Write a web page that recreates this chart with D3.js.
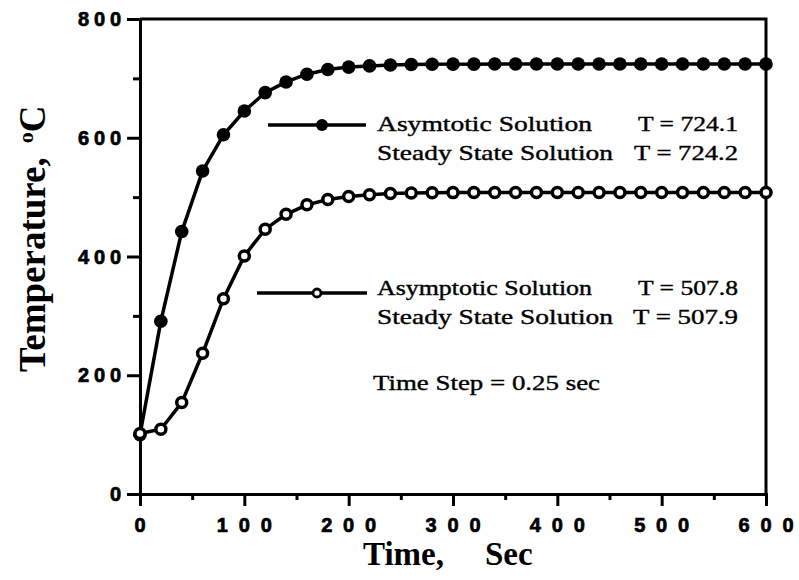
<!DOCTYPE html>
<html>
<head>
<meta charset="utf-8">
<script src="https://cdn.jsdelivr.net/npm/d3@7"></script>
<style>
  html, body { margin: 0; padding: 0; background: #fff; }
  svg { display: block; }
</style>
</head>
<body>
<svg id="chart" width="799" height="580"></svg>
<script>
// Time samples (s), every 20 s
const times = [0,20,40,60,80,100,120,140,160,180,200,220,240,260,280,300,320,340,360,380,400,420,440,460,480,500,520,540,560,580,600];

// Upper case: asymptotic solution, T -> 724.1
const upperTemps = [100,291,442,544,605,645,676,694,707,715,719,721,722.5,723.3,723.7,724,724,724.1,724.1,724.1,724.1,724.1,724.1,724.1,724.1,724.1,724.1,724.1,724.1,724.1,724.1];

// Lower case: asymptotic solution, T -> 507.8
const lowerTemps = [102,109,154,237,329,401,446,471,487,496,501,504,506,507,507.4,507.6,507.7,507.7,507.8,507.8,507.8,507.8,507.8,507.8,507.8,507.8,507.8,507.8,507.8,507.8,507.8];

const xTicks = [0,100,200,300,400,500,600];
const xMinor = [50,150,250,350,450,550];
const yTicks = [0,200,400,600,800];
const yMinor = [100,300,500,700];

const legendUpper = ["Asymtotic Solution", "Steady State Solution"];
const legendUpperT = ["T = 724.1", "T = 724.2"];
const legendLower = ["Asymptotic Solution", "Steady State Solution"];
const legendLowerT = ["T = 507.8", "T = 507.9"];
const noteText = "Time Step = 0.25 sec";

const svg = d3.select("#chart");
const x = d3.scaleLinear().domain([0, 600]).range([140, 766]);
const y = d3.scaleLinear().domain([0, 800]).range([494, 19]);

const serif = "'Liberation Serif', 'Times New Roman', serif";
const sans = "'Liberation Sans', Arial, sans-serif";

// Frame: top and right edges
svg.append("path")
  .attr("d", `M${x(0)},${y(800)}H${x(600)}V${y(0)}`)
  .attr("fill", "none").attr("stroke", "#000").attr("stroke-width", 3);

// X axis with major and minor ticks
svg.append("g").attr("transform", `translate(0,${y(0)})`)
  .call(d3.axisBottom(x).tickValues(xTicks).tickSize(12).tickFormat(""));
svg.append("g").attr("transform", `translate(0,${y(0)})`)
  .call(d3.axisBottom(x).tickValues(xMinor).tickSize(6).tickFormat(""))
  .call(g => g.select(".domain").remove());

// Y axis with major and minor ticks
svg.append("g").attr("transform", `translate(${x(0)},0)`)
  .call(d3.axisLeft(y).tickValues(yTicks).tickSize(13).tickFormat(""));
svg.append("g").attr("transform", `translate(${x(0)},0)`)
  .call(d3.axisLeft(y).tickValues(yMinor).tickSize(7).tickFormat(""))
  .call(g => g.select(".domain").remove());

svg.selectAll(".domain").attr("stroke", "#000").attr("stroke-width", 3);
svg.selectAll(".tick line").attr("stroke", "#000").attr("stroke-width", 3);

// Tick labels (heavy, widely spaced digits)
const numLen = d => String(d).length;
svg.append("g").selectAll("text").data(xTicks).join("text")
  .attr("x", d => x(d))
  .attr("y", 532)
  .attr("text-anchor", "middle")
  .attr("font-family", sans).attr("font-weight", "bold").attr("font-size", 20)
  .attr("stroke", "#000").attr("stroke-width", 0.7)
  .each(function(d) {
    if (numLen(d) > 1) d3.select(this).attr("textLength", 55).attr("lengthAdjust", "spacing");
  })
  .text(d => d);

svg.append("g").selectAll("text").data(yTicks).join("text")
  .attr("x", 121)
  .attr("y", d => y(d) + 7)
  .attr("text-anchor", "end")
  .attr("font-family", sans).attr("font-weight", "bold").attr("font-size", 20)
  .attr("stroke", "#000").attr("stroke-width", 0.7)
  .each(function(d) {
    if (numLen(d) > 1) d3.select(this).attr("textLength", 43).attr("lengthAdjust", "spacing");
  })
  .text(d => d);

// Axis titles
svg.append("text")
  .attr("x", 363).attr("y", 565)
  .attr("font-family", serif).attr("font-weight", "bold").attr("font-size", 33)
  .text("Time,");
svg.append("text")
  .attr("x", 485).attr("y", 565)
  .attr("font-family", serif).attr("font-weight", "bold").attr("font-size", 33)
  .text("Sec");

const yTitle = svg.append("text")
  .attr("transform", "translate(45,372) rotate(-90)")
  .attr("font-family", serif).attr("font-weight", "bold").attr("font-size", 37);
yTitle.append("tspan").text("Temperature,");
yTitle.append("tspan").attr("dx", 14).attr("dy", -12).attr("font-size", 22).text("o");
yTitle.append("tspan").attr("dy", 12).text("C");

// Series
const line = d3.line().x((d, i) => x(times[i])).y(d => y(d));

svg.append("path").datum(upperTemps)
  .attr("d", line).attr("fill", "none").attr("stroke", "#000").attr("stroke-width", 3.5);
svg.append("path").datum(lowerTemps)
  .attr("d", line).attr("fill", "none").attr("stroke", "#000").attr("stroke-width", 3.5);

svg.append("g").selectAll("circle").data(upperTemps).join("circle")
  .attr("cx", (d, i) => x(times[i])).attr("cy", d => y(d))
  .attr("r", 6.8).attr("fill", "#000");

svg.append("g").selectAll("circle").data(lowerTemps).join("circle")
  .attr("cx", (d, i) => x(times[i])).attr("cy", d => y(d))
  .attr("r", 5).attr("fill", "#fff").attr("stroke", "#000").attr("stroke-width", 3.5);

// Legends
function legendBlock(x0, x1, mx, ly, open, labels, tvals, tx, base) {
  svg.append("line").attr("x1", x0).attr("x2", x1).attr("y1", ly).attr("y2", ly)
    .attr("stroke", "#000").attr("stroke-width", 3.5);
  if (open) {
    svg.append("circle").attr("cx", mx).attr("cy", ly).attr("r", 4)
      .attr("fill", "#fff").attr("stroke", "#000").attr("stroke-width", 2.8);
  } else {
    svg.append("circle").attr("cx", mx).attr("cy", ly).attr("r", 6).attr("fill", "#000");
  }
  labels.forEach((t, i) => {
    svg.append("text").attr("x", 377).attr("y", base + i * 29)
      .attr("font-family", serif).attr("font-size", 22)
      .attr("stroke", "#000").attr("stroke-width", 0.4)
      .attr("textLength", i === 0 ? 215 : 236).attr("lengthAdjust", "spacingAndGlyphs")
      .text(t);
    svg.append("text").attr("x", tx[i]).attr("y", base + i * 29)
      .attr("font-family", serif).attr("font-size", 22)
      .attr("stroke", "#000").attr("stroke-width", 0.4)
      .attr("textLength", 738 - tx[i]).attr("lengthAdjust", "spacingAndGlyphs")
      .text(tvals[i]);
  });
}
legendBlock(268, 366, 322, 125, false, legendUpper, legendUpperT, [638, 634], 131);
legendBlock(257, 367, 317, 293, true, legendLower, legendLowerT, [638, 633], 295);

svg.append("text").attr("x", 373).attr("y", 390)
  .attr("font-family", serif).attr("font-size", 22)
  .attr("stroke", "#000").attr("stroke-width", 0.4)
  .attr("textLength", 227).attr("lengthAdjust", "spacingAndGlyphs")
  .text(noteText);
</script>
</body>
</html>
